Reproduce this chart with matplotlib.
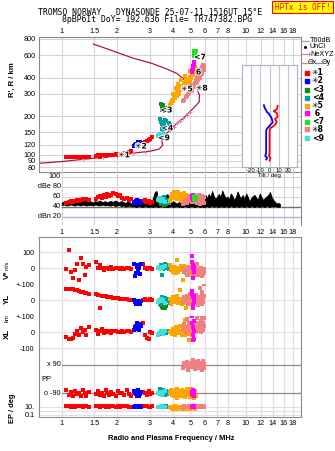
import matplotlib
matplotlib.use("Agg")
import matplotlib.pyplot as plt
import matplotlib.patheffects as pe
from matplotlib.lines import Line2D
from matplotlib.patches import Rectangle
from matplotlib.ticker import NullLocator

# ---- frequency axis ----
freq_ticks = [1, 1.5, 2, 3, 4, 5, 6, 7, 8, 10, 12, 14, 16, 18]
freq_labels = ["1", "1.5", "2", "3", "4", "5", "6", "7", "8", "10", "12", "14", "16", "18"]
height_ticks = [80, 90, 100, 120, 150, 200, 300, 400, 600, 800]

# ---- NeXYZ profile (MHz, km) ----
prof_f = [0.756, 0.979, 1.31, 1.681, 1.988, 2.447, 2.892, 3.141, 3.385, 3.532, 3.487, 3.635,
          3.869, 4.207, 4.569, 4.968, 5.40, 5.58, 5.594, 5.401, 5.075, 4.767, 4.207, 3.635,
          3.078, 2.447, 1.946, 1.484]
prof_h = [85.9, 88.4, 92.3, 95.8, 98, 103, 106, 108, 111, 119, 131, 143,
          156, 176, 193, 217, 245, 260, 293, 330, 350, 372, 432, 473,
          517, 566, 637, 731]
mark_f = [1.31, 1.681, 1.988, 2.25, 2.447, 2.85, 3.869, 4.05, 4.207, 4.40, 4.569, 4.80, 4.968]
mark_h = [92.3, 95.8, 98, 101, 103, 105, 156, 166, 176, 184, 193, 205, 217]

# ---- echo clusters: frequency, virtual height, amplitude, V*, YL, XL, PP, EP ----
red_f = [1.06, 1.09, 1.12, 1.15, 1.18, 1.21, 1.24, 1.27, 1.30, 1.33, 1.36, 1.40,
         1.53, 1.57, 1.61, 1.65, 1.69, 1.73, 1.77, 1.81, 1.86, 1.91, 1.96, 2.01,
         2.07, 2.13, 2.19, 2.25, 2.32, 2.39, 2.75, 2.82, 2.89, 2.96, 3.03, 3.10]
red_h = [96, 97, 96, 97, 96, 97, 96, 97, 96, 97, 96, 97,
         98, 99, 97, 99, 100, 98, 99, 100, 99, 100, 101, 100,
         102, 101, 103, 104, 106, 108, 122, 125, 128, 131, 134, 138]
red_db = [48, 50, 52, 51, 53, 54, 53, 55, 56, 56, 57, 55,
          56, 60, 62, 58, 64, 60, 66, 62, 64, 68, 66, 62,
          64, 58, 56, 58, 54, 56, 52, 54, 50, 52, 48, 50]
red_v = [-5, 114, -21, -62, -12, 27, -70, 62, 30, -40, 10, 20,
         39, 0, 20, 5, -8, 3, 0, -5, 6, -3, 2, 0,
         -4, 5, -2, 0, 3, -6, 25, 0, -5, 2, 0, -3]
red_yl = [72, 70, 70, 68, 66, 62, 60, 55, 52, 48, 45, 40,
          42, 35, -48, 30, 28, 25, 22, 20, 18, 16, 14, 12,
          10, 9, 8, 6, 5, 4, 5, 6, 4, 5, 6, 5]
red_xl = [-30, -45, -40, -35, -10, 10, -20, 25, 0, 15, -15, 30,
          15, -10, 5, 20, -5, 10, 0, 8, -3, 5, 10, 0,
          3, 8, 0, 5, 10, 2, 55, -20, -35, -45, 0, -5]
red_pp = [-70, -100, -80, -110, -75, -95, -85, -105, -70, -90, -110, -80,
          -95, -75, -100, -85, -110, -70, -90, -100, -80, -95, -105, -75,
          -90, -85, -100, -70, -95, -110, -80, -90, -100, -75, -95, -85]
red_ep = [12, 15, 10, 14, 11, 13, 16, 12, 10, 14, 12, 11,
          13, 15, 10, 12, 14, 11, 13, 10, 15, 12, 11, 14,
          10, 13, 12, 15, 11, 10, 14, 12, 13, 10, 11, 12]

blue_f = [2.46, 2.50, 2.53, 2.55, 2.56, 2.58, 2.60, 2.61, 2.62, 2.64, 2.66, 2.68]
blue_h = [118, 120, 122, 119, 121, 124, 123, 127, 125, 122, 126, 124]
blue_db = [48, 50, 52, 54, 49, 51, 53, 50, 52, 48, 51, 49]
blue_v = [30, -45, -30, 10, 20, -10, 0, -20, 15, 5, -35, 25]
blue_yl = [0, -10, -20, -5, -15, -8, -12, -18, -3, -10, -22, -6]
blue_xl = [15, 30, 40, 55, 25, 35, 20, 45, 12, 30, 50, 38]
blue_pp = [-75, -85, -95, -105, -80, -90, -100, -70, -110, -88, -95, -82]
blue_ep = [10, 12, 11, 13, 10, 12, 11, 10, 13, 12, 11, 10]

green_f = [3.47, 3.50, 3.52, 3.53, 3.56, 3.60, 3.64, 3.68]
green_h = [250, 240, 222, 232, 245, 225, 218, 230]
green_db = [46, 48, 50, 47, 49, 45, 48, 46]
green_v = [5, 0, 10, -5, 8, 2, 12, 0]
green_yl = [-30, -40, -20, -45, -35, -25, -50, -38]
green_xl = [-10, 5, 0, 10, -5, 8, -2, 3]
green_pp = [-80, -90, -70, -95, -85, -75, -100, -90]
green_ep = [10, 12, 11, 10, 12, 11, 10, 12]

teal_f = [3.42, 3.46, 3.50, 3.52, 3.55, 3.60, 3.62, 3.65, 3.70, 3.75, 3.80, 3.86]
teal_h = [190, 180, 175, 158, 168, 172, 188, 160, 185, 165, 178, 170]
teal_db = [52, 56, 58, 50, 54, 60, 52, 56, 50, 54, 48, 52]
teal_v = [10, 20, 0, -40, 15, 5, 25, 10, 0, 18, -5, 8]
teal_yl = [-20, 10, 0, 20, -10, 5, -25, 15, -5, 10, 0, -15]
teal_xl = [-10, 5, 0, 10, -5, 8, -2, 3, -8, 6, 0, 4]
teal_pp = [-60, -90, -80, -95, -70, -100, -85, -90, -75, -95, -80, -90]
teal_ep = [8, 10, 12, 9, 11, 10, 8, 12, 10, 9, 11, 10]

cyan_f = [3.33, 3.38, 3.44, 3.50, 3.56, 3.62]
cyan_h = [140, 145, 138, 143, 147, 141]
cyan_db = [55, 58, 52, 56, 54, 50]
cyan_v = [5, 10, -5, 0, 8, 15]
cyan_yl = [-10, 0, 10, -5, 5, -15]
cyan_xl = [-15, -5, 5, 0, -10, 8]
cyan_pp = [-85, -95, -80, -100, -90, -75]
cyan_ep = [10, 11, 9, 12, 10, 11]

orange_f = [3.86, 3.92, 3.96, 4.00, 4.05, 4.10, 4.15, 4.20, 4.25, 4.30,
            4.36, 4.42, 4.48, 4.54, 4.60, 4.66, 4.70, 4.72, 4.78, 4.84,
            4.90, 4.96, 5.00, 5.02, 5.08, 5.14, 5.20, 5.26, 5.32, 5.38,
            4.02, 4.35, 4.15, 4.52, 4.30, 4.68, 4.45, 4.85, 4.65, 5.05, 4.95, 5.30]
orange_h = [245, 255, 270, 262, 285, 275, 300, 290, 315, 305,
            330, 320, 345, 335, 360, 350, 390, 375, 365, 390,
            380, 405, 370, 395, 430, 420, 455, 445, 480, 470,
            300, 300, 330, 320, 355, 345, 380, 370, 410, 400, 450, 455]
orange_db = [52, 60, 66, 58, 70, 62, 68, 56, 64, 70,
             60, 66, 54, 62, 68, 58, 64, 60, 56, 62,
             52, 58, 54, 60, 50, 56, 52, 58, 54, 50,
             58, 64, 62, 56, 66, 60, 54, 62, 58, 52, 56, 60]
orange_v = [20, -10, 0, -25, 10, -30, 5, -15, 52, -20,
            0, -10, -5, -72, 15, -25, 0, -30, 10, -15,
            5, -20, -40, 0, -10, 25, -35, 5, -20, -5,
            -15, 5, -30, 10, 0, -20, 15, -5, -25, 0, -10, 10]
orange_yl = [10, -20, 0, 20, -10, 15, -5, 25, 0, -15,
             62, 10, -25, 5, 20, -10, 0, -50, 15, -5,
             10, -20, 30, 0, -15, 5, 20, -10, 0, 10,
             5, -10, 15, -25, 0, 10, -5, 20, -15, 0, 25, -10]
orange_xl = [0, 10, -10, 20, 5, -15, 30, 0, 15, -5,
             40, 10, -20, 25, 0, 75, 10, -10, 35, 5,
             -50, 20, 0, 45, 10, -15, 30, 5, 20, 0,
             10, -5, 25, 0, 15, -20, 5, 30, 0, 10, -10, 20]
orange_pp = [-90, -70, -100, -85, -110, -75, -95, -60, -120, -80,
             -90, -105, -70, -95, -85, -115, -75, -100, -65, -90,
             -80, -110, -95, -70, -100, -85, -120, -75, -90, -105,
             -80, -100, -70, -95, -110, -85, -75, -100, -90, -65, -115, -85]
orange_ep = [8, 5, 10, 3, 6, 12, 4, 8, 2, 7,
             10, 5, 3, 9, 6, 4, 8, 2, 5, 10,
             6, 3, 8, 5, 7, 4, 9, 6, 3, 8,
             5, 8, 3, 10, 6, 4, 7, 2, 9, 5, 6, 3]

salmon_f = [4.55, 4.62, 4.70, 4.78, 4.85, 4.92, 5.00, 5.06, 5.12, 5.18,
            5.25, 5.28, 5.32, 5.38, 5.40, 5.45, 5.50, 5.52, 5.55, 5.60,
            5.62, 5.68, 5.70, 5.76, 5.76, 5.80, 5.84, 5.88, 5.92, 5.95]
salmon_h = [262, 270, 280, 290, 300, 310, 320, 330, 315, 340,
            350, 335, 365, 380, 360, 395, 380, 410, 450, 425,
            400, 440, 470, 455, 485, 430, 470, 500, 490, 460]
salmon_db = [46, 50, 54, 48, 58, 52, 62, 56, 60, 50,
             64, 54, 58, 62, 48, 56, 60, 52, 64, 58,
             46, 60, 54, 62, 50, 58, 56, 52, 60, 48]
salmon_v = [0, -20, -10, -40, 5, -30, -15, 10, -25, -5,
            -50, 0, -35, -10, -20, 30, -40, -5, -25, 0,
            -15, -30, 5, -20, -45, -10, -25, -35, -5, -20]
salmon_yl = [-10, 20, 0, 30, -20, 10, 40, -5, 15, -25,
             25, 5, -15, 35, 0, -10, 20, -30, 10, 0,
             80, -5, 15, 50, -20, 25, 5, -10, 100, 30]
salmon_xl = [20, 50, 0, 80, 30, 60, 10, 100, 40, -5,
             70, 20, 125, 50, 30, 90, 10, 60, 40, 110,
             20, 70, 0, 50, 80, 30, 60, 15, 40, 90]
salmon_pp = [70, 100, 85, 110, 60, 95, 80, 105, 75, 120,
             90, 65, 100, 85, 110, 95, 70, 115, 80, 90,
             100, 75, 95, 60, 105, 85, 115, 80, 95, 70]
salmon_ep = [10, 12, 9, 11, 10, 13, 10, 12, 11, 9,
             10, 12, 11, 10, 9, 12, 10, 11, 13, 10,
             9, 11, 10, 12, 10, 11, 9, 12, 10, 11]

mag_f = [5.08, 5.12, 5.14, 5.16, 5.18, 5.20, 5.22, 5.24]
mag_h = [445, 460, 470, 480, 490, 500, 510, 525]
mag_db = [58, 62, 55, 65, 60, 57, 63, 56]
mag_v = [76, 40, -60, 0, 20, -20, 10, 0]
mag_yl = [60, 40, -50, 20, -30, 0, -10, 30]
mag_xl = [100, 60, -50, 30, -20, 10, -40, 70]
mag_pp = [-80, -95, -70, -100, -90, -85, -75, -105]
mag_ep = [10, 8, 12, 9, 11, 10, 8, 12]

lime_f = [5.20, 5.22, 5.25, 5.28, 5.30, 5.35]
lime_h = [590, 640, 610, 600, 630, 650]
lime_db = [56, 60, 58, 62, 55, 59]

# ---- unclassified amplitude trace (MHz, dB) ----
black_f = [1.00, 1.03, 1.06, 1.09, 1.12, 1.15, 1.18, 1.21, 1.24, 1.27, 1.30, 1.33, 1.36, 1.40,
           1.44, 1.48, 1.52, 1.56, 1.60, 1.64, 1.68, 1.72, 1.76, 1.80,
           1.85, 1.90, 1.95, 2.00, 2.05, 2.10, 2.16, 2.22, 2.28, 2.34,
           2.40, 2.46, 2.52, 2.58, 2.65, 2.72, 2.79, 2.86, 2.93, 3.00,
           3.07, 3.14, 3.20, 3.27, 3.34, 3.42, 3.50, 3.58, 3.66, 3.75,
           3.84, 3.93, 4.02, 4.12, 4.22, 4.32, 4.42, 4.53, 4.64, 4.75,
           4.86, 4.98, 5.10, 5.22, 5.35, 5.48, 5.61, 5.75, 5.89, 6.03,
           6.15, 6.28, 6.41, 6.55, 6.69, 6.83, 6.98, 7.13, 7.28, 7.44,
           7.60, 7.76, 7.93, 8.10, 8.27, 8.45, 8.63, 8.82, 9.01, 9.20,
           9.40, 9.60, 9.81, 10.02, 10.24, 10.46, 10.68, 10.91, 11.15, 11.39,
           11.63, 11.88, 12.14, 12.40, 12.67, 12.94, 13.22, 13.50, 13.79, 14.09,
           14.39, 14.70, 15.02, 15.30]
black_hi = [49, 51, 50, 52, 50, 51, 53, 51, 50, 52, 51, 53, 52, 50,
            51, 49, 52, 50, 53, 51, 50, 52, 49, 51,
            52, 50, 53, 51, 49, 52, 50, 48, 51, 49,
            48, 50, 47, 49, 48, 50, 47, 49, 46, 48,
            50, 60, 70, 72, 55, 50, 48, 52, 62, 66,
            50, 48, 52, 49, 47, 50, 48, 51, 49, 47,
            50, 64, 58, 52, 49, 51, 50, 48, 52, 64,
            58, 66, 60, 72, 62, 56, 61, 66, 60, 73,
            64, 58, 61, 55, 67, 62, 54, 60, 71, 62,
            58, 64, 56, 67, 60, 51, 58, 62, 64, 58,
            55, 67, 60, 54, 58, 61, 64, 70, 60, 54,
            50, 47, 48, 46]
black_lo = [44, 45, 43, 44, 45, 44, 43, 45, 44, 43, 45, 44, 43, 44,
            44, 43, 45, 44, 43, 44, 45, 43, 44, 43,
            43, 44, 42, 43, 44, 42, 43, 41, 42, 43,
            41, 42, 40, 41, 42, 40, 41, 42, 40, 41,
            41, 40, 42, 41, 40, 41, 42, 40, 41, 40,
            41, 42, 40, 41, 42, 40, 41, 40, 42, 41,
            40, 41, 42, 40, 41, 42, 40, 41, 40, 41,
            42, 40, 41, 43, 40, 42, 41, 40, 42, 41,
            40, 42, 41, 40, 43, 41, 40, 42, 41, 40,
            42, 41, 40, 42, 41, 40, 43, 41, 40, 42,
            41, 40, 42, 41, 40, 43, 41, 40, 42, 41,
            42, 41, 40, 42]

# ---- tilt inset (deg vs km) ----
tilt_x = [9.0, 8.0, 4.7, 8.3, 9.0, 6.1, 8.0, 6.5, 3.6, 0.7, 0, 0, -0.7, 1.1, 0]
tilt_x_h = [241, 226, 220, 211, 198, 190, 181, 173, 166, 161, 152, 103, 98, 95, 90]
tilt_y = [-6.2, -5.1, -3.7, -2.9, -1.1, 0, 1.8, 2.9, 3.6, 1.1, -0.7, -2.5, -3.7, -3.7, -3.7, -4.8, -2.5, -3.7]
tilt_y_h = [244, 230, 223, 216, 211, 205, 197, 188, 179, 172, 166, 161, 155, 123, 103, 98, 95, 92]

# ---- echo labels ----
label_names = ["✳1", "✳2", "<3", "<4", "✳5", "6", "<7", "✳8", "<9"]
label_f = [2.18, 2.69, 3.70, 3.75, 4.78, 5.53, 5.63, 5.76, 3.59]
label_h = [100, 117, 224, 162, 327, 443, 580, 332, 136]

RED, BLUE, GREEN, TEAL = "#ff0000", "#0000ff", "#1a8a1a", "#00a0a0"
ORANGE, MAGENTA, LIME, SALMON, CYAN = "#ffa500", "#ff00ff", "#22e022", "#f08080", "#40e0d8"
GRID = "#d4d4d4"
LGRID = "#e6dce6"
FRAME = "#8a8a8a"

W, H = 335, 451
FMIN, FMAX = 0.753, 19.9
S_TOP, S_DB, S_LOW = 8.5, 7.5, 6.5

plt.rcParams["font.family"] = ["Liberation Sans", "DejaVu Sans"]
plt.rcParams["font.size"] = 5.2


def box(x0, y0, x1, y1):
    return [x0 / W, 1 - y1 / H, (x1 - x0) / W, (y1 - y0) / H]


def ftext(x, y, s, **kw):
    fig.text(x / W, 1 - y / H, s, **kw)


def freq_axis(ax, where):
    ax.set_xscale("log")
    ax.set_xlim(FMIN, FMAX)
    ax.set_xticks(freq_ticks)
    ax.xaxis.set_minor_locator(NullLocator())
    if where is None:
        ax.set_xticklabels([])
    else:
        ax.set_xticklabels(freq_labels)
        if where == "top":
            ax.xaxis.tick_top()
    ax.tick_params(axis="x", length=0, pad=1.2 if where == "top" else 2.6, labelsize=5.2)
    for f in freq_ticks:
        ax.axvline(f, color=GRID, lw=0.8, zorder=0)
    for s in ax.spines.values():
        s.set_color(FRAME)
        s.set_linewidth(0.8)


fig = plt.figure(figsize=(W / 100, H / 100), dpi=100)

# header
ftext(150, 12.3, "TROMSO NORWAY   DYNASONDE 25-07-11 1516UT 15°E",
      family="DejaVu Sans Mono", fontsize=5.9, ha="center", va="center")
ftext(157, 19.8, "8pBP6It DoY= 192.636 File= TR747382.BPG",
      family="DejaVu Sans Mono", fontsize=5.9, ha="center", va="center")
fig.patches.append(Rectangle((271.7 / W, 1 - 12.7 / H), 61.6 / W, 11.7 / H,
                             transform=fig.transFigure, facecolor="#ffff00",
                             edgecolor="#ff0000", lw=0.8))
ftext(302.5, 7, "HPTx is OFF!", family="DejaVu Sans Mono", fontsize=5.6,
      color="#ff0000", ha="center", va="center")

clusters = [
    (red_f, red_h, red_db, red_v, red_yl, red_xl, red_pp, red_ep, RED),
    (blue_f, blue_h, blue_db, blue_v, blue_yl, blue_xl, blue_pp, blue_ep, BLUE),
    (green_f, green_h, green_db, green_v, green_yl, green_xl, green_pp, green_ep, GREEN),
    (teal_f, teal_h, teal_db, teal_v, teal_yl, teal_xl, teal_pp, teal_ep, TEAL),
    (cyan_f, cyan_h, cyan_db, cyan_v, cyan_yl, cyan_xl, cyan_pp, cyan_ep, CYAN),
    (orange_f, orange_h, orange_db, orange_v, orange_yl, orange_xl, orange_pp, orange_ep, ORANGE),
    (salmon_f, salmon_h, salmon_db, salmon_v, salmon_yl, salmon_xl, salmon_pp, salmon_ep, SALMON),
    (mag_f, mag_h, mag_db, mag_v, mag_yl, mag_xl, mag_pp, mag_ep, MAGENTA),
]

# ---- height panel ----
ax_h = fig.add_axes(box(39, 37, 301, 172))
freq_axis(ax_h, "top")
ax_h.set_yscale("log")
ax_h.set_ylim(73.5, 829)
ax_h.set_yticks(height_ticks)
ax_h.set_yticklabels([str(t) for t in height_ticks])
ax_h.yaxis.set_minor_locator(NullLocator())
ax_h.tick_params(axis="y", length=0, pad=2.4, labelsize=5.2)
for t in height_ticks:
    ax_h.axhline(t, color=GRID, lw=0.8, zorder=0)
ax_h.plot(prof_f, prof_h, color="#a8184a", lw=0.9, zorder=2)
ax_h.plot(mark_f, mark_h, ls="none", marker="+", ms=3, mew=0.7, color="#e8789a", zorder=3)
for c in clusters:
    ax_h.scatter(c[0], c[1], s=S_TOP, marker="s", color=c[8], lw=0, zorder=4)
ax_h.scatter(lime_f, lime_h, s=S_TOP, marker="s", color=LIME, lw=0, zorder=4)
for name, f, h in zip(label_names, label_f, label_h):
    ax_h.text(f, h, name, fontsize=5.6, fontweight="bold", ha="center", va="center",
              family=["DejaVu Sans"], zorder=6,
              path_effects=[pe.withStroke(linewidth=1.4, foreground="white")])
fig.text(12.7 / W, 1 - 80 / H, "R', R / km", rotation=90, ha="center", va="center",
         fontsize=5.6, fontweight="bold")

# ---- amplitude panel ----
ax_db = fig.add_axes(box(39, 172, 301, 225))
ax_db.patch.set_alpha(0)
freq_axis(ax_db, "bottom")
ax_db.set_ylim(4, 110)
ax_db.set_yticks([])
for s in ["left", "top", "bottom"]:
    ax_db.spines[s].set_visible(False)
db_lines = [(100, GRID, 0.8), (80, GRID, 0.8), (60, GRID, 0.8), (40, "#707070", 1.0), (20, "#b4b4dc", 1.0)]
db_labels = {100: "100", 80: "dBe 80", 60: "60", 40: "40", 20: "dBn 20"}
for lev, col, lw in db_lines:
    ax_db.plot([1.0, FMAX], [lev, lev], color=col, lw=lw, zorder=1)
    ax_db.text(0.99, lev, db_labels[lev], ha="right", va="center", fontsize=5.2)
ax_db.fill_between(black_f, black_lo, black_hi, color="black", lw=0.6, zorder=2)
for c in clusters:
    ax_db.scatter(c[0], c[2], s=S_DB, marker="s", color=c[8], lw=0, zorder=3)
ax_db.scatter(lime_f, lime_db, s=S_DB, marker="s", color=LIME, lw=0, zorder=3)

# ---- drift panels ----
rows = [
    (237, 284.3, (-100, 196), "linear"),
    (284.3, 316.3, (-100, 100), "linear"),
    (316.3, 356, (-150, 100), "linear"),
    (356, 400, (-132.6, 147), "linear"),
    (400, 416.7, (0.0273, 523), "log"),
]
lower = []
for i, (y0, y1, lim, scale) in enumerate(rows):
    ax = fig.add_axes(box(39, y0, 301, y1))
    freq_axis(ax, "bottom" if i == len(rows) - 1 else None)
    ax.set_yscale(scale)
    ax.set_ylim(*lim)
    ax.yaxis.set_minor_locator(NullLocator())
    ax.tick_params(axis="y", length=0, pad=3.2, labelsize=5.2)
    for f in freq_ticks:
        ax.axvline(f, color=LGRID, lw=0.8, zorder=0)
    if i > 0:
        ax.spines["top"].set_visible(False)
    if i < len(rows) - 1:
        ax.spines["bottom"].set_visible(False)
    lower.append(ax)
ax_v, ax_yl, ax_xl, ax_pp, ax_ep = lower

ax_v.set_yticks([100, 0, -100])
ax_v.set_yticklabels(["100", "0", "+-100"])
ax_yl.set_yticks([0, -100])
ax_yl.set_yticklabels(["0", "+-100"])
ax_xl.set_yticks([0, -100])
ax_xl.set_yticklabels(["0", "-100"])
ax_pp.set_yticks([])
ax_ep.set_yticks([10, 0.1])
ax_ep.set_yticklabels(["10.", "0.1"])
for ax, levels in [(ax_v, [100, 0, -100]), (ax_yl, [0]), (ax_xl, [0, -100]), (ax_ep, [10, 1, 0.1])]:
    for lev in levels:
        ax.axhline(lev, color=LGRID, lw=0.8, zorder=0)
for lev, txt in [(90, "x 90"), (-90, "o -90")]:
    ax_pp.plot([1.0, FMAX], [lev, lev], color="#8a8a8a", lw=0.9, zorder=1)
    ax_pp.text(0.99, lev, txt, ha="right", va="center", fontsize=5.2)

for c in clusters:
    for ax, vals in zip(lower, c[3:8]):
        ax.scatter(c[0], vals, s=S_LOW, marker="s", color=c[8], lw=0, zorder=3)

ftext(7, 275, "V*", rotation=90, ha="center", va="center", fontsize=5.8, fontweight="bold")
ftext(7, 265, "m/s", rotation=90, ha="center", va="center", fontsize=4.2)
ftext(7, 299, "YL", rotation=90, ha="center", va="center", fontsize=5.8, fontweight="bold")
ftext(7, 318, "km", rotation=90, ha="center", va="center", fontsize=4.2)
ftext(7, 334, "XL", rotation=90, ha="center", va="center", fontsize=5.8, fontweight="bold")
ftext(46, 379.3, "PP", ha="center", va="center", fontsize=5.4)
ftext(13, 408, "EP / deg", rotation=90, ha="center", va="center", fontsize=5.4, fontweight="bold")
ftext(171, 438, "Radio and Plasma Frequency / MHz", ha="center", va="center", fontsize=5.4,
      fontweight="bold")

# ---- legend ----
def leg_line(x0, x1, y, color, marker=None):
    fig.add_artist(Line2D([x0 / W, x1 / W], [1 - y / H, 1 - y / H], color=color, lw=0.9,
                          marker=marker, markevery=[1] if marker else None, ms=3, mew=0.7))


leg_line(302, 309, 41, "#a0a0a0")
ftext(310, 41, "T60dB", va="center", fontsize=5.2)
fig.add_artist(Line2D([305 / W], [1 - 47 / H], ls="none", marker="s", ms=1, color="black"))
ftext(310, 47, "UnCl", va="center", fontsize=5.2)
leg_line(302, 309, 54, "#e8789a", marker="+")
ftext(310, 54, "NeXYZ", va="center", fontsize=5.2)
leg_line(302, 308, 62.5, "#e8789a")
ftext(308, 62.5, "Θx", va="center", fontsize=5.2)
leg_line(316, 322, 62.5, "#8080e0")
ftext(322, 62.5, "Θy", va="center", fontsize=5.2)
leg_cols = [RED, BLUE, GREEN, TEAL, ORANGE, MAGENTA, LIME, SALMON, CYAN]
leg_names = ["✳1", "✳2", "<3", "<4", "✳5", " 6", "<7", "✳8", "<9"]
leg_y = [72.7, 80.7, 90, 97.7, 105.7, 113.3, 121.7, 129.3, 138.3]
for col, name, y in zip(leg_cols, leg_names, leg_y):
    fig.add_artist(Line2D([307.3 / W], [1 - y / H], ls="none", marker="s", ms=2.8, color=col))
    ftext(312, y, name, va="center", fontsize=5.6, fontweight="bold", family=["DejaVu Sans"])

# ---- tilt inset ----
ax_t = fig.add_axes(box(242.3, 65, 296.7, 167.3))
ax_t.set_facecolor("white")
ax_t.set_xlim(-30, 30)
ax_t.set_yscale("log")
ax_t.set_ylim(80, 502)
ax_t.set_yticks([])
ax_t.yaxis.set_minor_locator(NullLocator())
ax_t.set_xticks([-20, -10, 0, 10, 20])
ax_t.set_xticklabels(["-20", "-10", "0", "10", "20"])
ax_t.tick_params(axis="x", length=0, pad=0.8, labelsize=4.3)
ax_t.set_xlabel("Tilt / deg", fontsize=4.3, labelpad=0)
for t in [-20, -10, 0, 10, 20]:
    ax_t.axvline(t, color="#c4c4d4", lw=0.8, zorder=0)
for s in ax_t.spines.values():
    s.set_color("#b0b0c8")
    s.set_linewidth(0.8)
ax_t.plot(tilt_y, tilt_y_h, color=BLUE, lw=1.3, zorder=2)
ax_t.plot(tilt_x, tilt_x_h, color=RED, lw=1.3, zorder=3)

fig.savefig("out.png", dpi=100)
